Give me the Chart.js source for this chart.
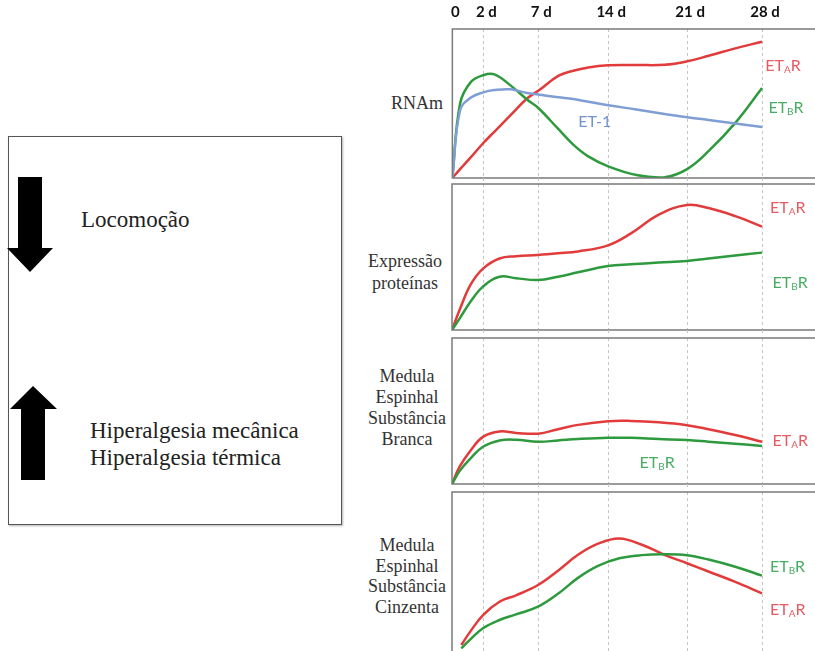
<!DOCTYPE html>
<html>
<head>
<meta charset="utf-8">
<script src="https://cdn.jsdelivr.net/npm/chart.js@4.4.1/dist/chart.umd.min.js"></script>
<style>
  body { margin: 0; background: #fff; }
  #stage { position: relative; width: 815px; height: 651px; overflow: hidden; }
  canvas { position: absolute; left: 440px; }
  .box { position: absolute; left: 8px; top: 136px; width: 334px; height: 389px; box-sizing: border-box;
         border: 1.5px solid #555; box-shadow: 1px 1px 2px rgba(0,0,0,0.3); }
  .serif { position: absolute; font-family: "Liberation Serif", serif; color: #222; }
  .title { position: absolute; font-family: "Liberation Serif", serif; font-size: 18px; color: #333;
           text-align: center; width: 110px; }
</style>
</head>
<body>
<div id="stage">
  <div class="box"></div>
  <svg width="360" height="651" style="position:absolute;left:0;top:0">
    <polygon points="18,177 42,177 42,248 53,248 30,272 7,248 18,248" fill="#000"/>
    <polygon points="33,386 57,409 45,409 45,480 21,480 21,409 10,409" fill="#000"/>
  </svg>
  <div class="serif" style="left:81px;top:207px;font-size:23px;line-height:26px">Locomoção</div>
  <div class="serif" style="left:90px;top:417px;font-size:23px;line-height:27px">Hiperalgesia mecânica<br>Hiperalgesia térmica</div>

  <div class="title" style="left:362px;top:93px;line-height:21px">RNAm</div>
  <div class="title" style="left:350px;top:251px;line-height:21.5px">Expressão<br>proteínas</div>
  <div class="title" style="left:352px;top:366px;line-height:21px">Medula<br>Espinhal<br>Substância<br>Branca</div>
  <div class="title" style="left:352px;top:535px;line-height:20.7px">Medula<br>Espinhal<br>Substância<br>Cinzenta</div>

  <canvas id="c1" width="375" height="184" style="top:0px"></canvas>
  <canvas id="c2" width="375" height="158" style="top:178px"></canvas>
  <canvas id="c3" width="375" height="158" style="top:332px"></canvas>
  <canvas id="c4" width="375" height="165" style="top:486px"></canvas>
</div>
<script>
// time axis
const tickDays = [0, 2, 7, 14, 21, 28];
const dayKnots = [0, 2, 7, 14, 21, 28, 33];
const knotSpots = [0, 31, 86, 156, 235, 310, 363].map(p => p / 363);

// RNAm
const rnaDays = [0, 0.5, 1.2, 2, 3, 4.5, 6, 7, 9, 10.5, 12, 14, 16.5, 19, 21, 23, 25.5, 28];
const rnaEtaR = [0, 6, 14, 23.5, 31, 42.3, 53.5, 58.5, 68.5, 72, 74.2, 75.6, 75.8, 76, 78.3, 82, 87, 91.5];
const rnaEtbR = [0, 50, 64.5, 69, 69.5, 62, 52.5, 47, 32.9, 22.4, 14.5, 7.8, 2, 0.5, 6, 18, 37, 60.4];
const rnaEt1 = [0, 45.5, 54, 57.5, 59, 59.5, 57, 56, 54.2, 53, 51.2, 48.8, 46, 43, 40.7, 39, 36.6, 34.2];

// Expressão proteínas
const protDays = [0, 0.5, 1.2, 2, 3.5, 5, 7, 9, 11, 14, 16, 18.5, 21, 23, 25.5, 28];
const protEtaR = [0, 14, 31, 42, 49, 50.5, 51.4, 52.5, 53.8, 58, 66, 79, 85.6, 83.5, 78, 70.8];
const protEtbR = [0, 8, 19.5, 29.7, 36.5, 35.5, 34.2, 36.5, 39.5, 43.8, 45, 46.2, 47.3, 49, 51, 53];

// Medula espinhal, substância branca
const whiteDays = [0, 0.5, 1.2, 2, 3.5, 5, 7, 9, 11, 14, 16, 18.5, 21, 23, 25.5, 28];
const whiteEtaR = [0, 12, 23, 32.3, 36, 35, 34.5, 37.5, 40.5, 43, 43.2, 42.3, 40.3, 37.5, 33.5, 28.9];
const whiteEtbR = [0, 9, 17.6, 25.5, 29.8, 30.3, 28.9, 29.8, 30.8, 31.7, 31.6, 30.8, 30.1, 29, 27.6, 26];

// Medula espinhal, substância cinzenta
const greyDays = [0.6, 1.2, 2, 3.5, 5, 7, 9, 11, 13, 15, 17, 19, 21, 23, 25.5, 28];
const greyEtaR = [3.8, 12.5, 22.6, 31, 35, 41.5, 50.5, 60.5, 67.5, 70.8, 66.8, 60.5, 55.2, 50, 43.5, 36.3];
const greyEtbR = [1.7, 7.5, 14.3, 19.5, 23, 27.9, 36, 46, 53.5, 58.3, 60.3, 60.8, 60.2, 57.5, 53, 47.4];

const RED = "#e23b3b", GREEN = "#2e9a3e", BLUE = "#7e9ed4";
const RED_TXT = "#e65a60", GREEN_TXT = "#48ad62", BLUE_TXT = "#7393cf";

// piecewise day axis, like the original drawing
function dayToFrac(v) {
  for (let i = 1; i < dayKnots.length; i++) {
    if (v <= dayKnots[i]) {
      const t = (v - dayKnots[i - 1]) / (dayKnots[i] - dayKnots[i - 1]);
      return knotSpots[i - 1] + t * (knotSpots[i] - knotSpots[i - 1]);
    }
  }
  return 1;
}
function fracToDay(f) {
  for (let i = 1; i < knotSpots.length; i++) {
    if (f <= knotSpots[i]) {
      const t = (f - knotSpots[i - 1]) / (knotSpots[i] - knotSpots[i - 1]);
      return dayKnots[i - 1] + t * (dayKnots[i] - dayKnots[i - 1]);
    }
  }
  return dayKnots[dayKnots.length - 1];
}
class DayScale extends Chart.LinearScale {
  getPixelForValue(v) {
    if (v === null || isNaN(v)) return NaN;
    return this.getPixelForDecimal(dayToFrac(v));
  }
  getValueForPixel(px) {
    return fracToDay(this.getDecimalForPixel(px));
  }
}
DayScale.id = "days";
DayScale.defaults = Object.assign({}, Chart.LinearScale.defaults);
Chart.register(DayScale);

const pairs = (xs, ys) => xs.map((x, i) => ({ x: x, y: ys[i] }));

function line(xs, ys, color) {
  return {
    data: pairs(xs, ys),
    borderColor: color,
    borderWidth: 2.5,
    pointRadius: 0,
    fill: false,
    tension: 0.4
  };
}

// frame on left/top/bottom + dashed lines carried through the gap
function framePlugin(showBottom, carryDown) {
  return {
    id: "frame",
    afterDraw(chart) {
      const { ctx, chartArea: a, scales: { x } } = chart;
      ctx.save();
      ctx.strokeStyle = "#7a7a7a";
      ctx.lineWidth = 1.5;
      ctx.beginPath();
      ctx.moveTo(chart.width, a.top);
      ctx.lineTo(a.left, a.top);
      ctx.lineTo(a.left, showBottom ? a.bottom : chart.height);
      if (showBottom) ctx.lineTo(chart.width, a.bottom);
      ctx.stroke();
      if (carryDown) {
        ctx.strokeStyle = "#c4c4c4";
        ctx.lineWidth = 1;
        ctx.setLineDash([3, 3]);
        tickDays.slice(1).forEach(d => {
          const px = Math.round(x.getPixelForValue(d)) + 0.5;
          ctx.beginPath();
          ctx.moveTo(px, a.bottom);
          ctx.lineTo(px, chart.height);
          ctx.stroke();
        });
      }
      ctx.restore();
    }
  };
}

function labelsPlugin(items) {
  return {
    id: "seriesLabels",
    afterDatasetsDraw(chart) {
      const { ctx, scales: { x, y } } = chart;
      items.forEach(it => {
        let px = x.getPixelForValue(it.day);
        const py = y.getPixelForValue(it.value);
        ctx.save();
        ctx.fillStyle = it.color;
        ctx.textBaseline = "middle";
        ctx.textAlign = "left";
        ctx.font = "16px Lato";
        ctx.fillText(it.main, px, py);
        px += ctx.measureText(it.main).width;
        if (it.sub) {
          ctx.font = "10px Lato";
          ctx.fillText(it.sub, px, py + 4);
          px += ctx.measureText(it.sub).width;
          ctx.font = "16px Lato";
          ctx.fillText(it.tail, px, py);
        }
        ctx.restore();
      });
    }
  };
}

function makePanel(id, datasets, labels, opts) {
  new Chart(document.getElementById(id), {
    type: "line",
    data: { datasets: datasets },
    options: {
      responsive: false,
      animation: false,
      layout: { padding: { left: 12, right: 0, top: opts.top, bottom: opts.bottom } },
      plugins: { legend: { display: false }, tooltip: { enabled: false } },
      scales: {
        x: {
          type: "days",
          position: "top",
          min: 0,
          max: 33,
          afterBuildTicks: axis => { axis.ticks = tickDays.map(v => ({ value: v })); },
          afterFit: axis => { axis.height = opts.axis ? 29 : 0; },
          grid: {
            color: ctx => (ctx.tick && ctx.tick.value === 0 ? "rgba(0,0,0,0)" : "#c4c4c4"),
            lineWidth: 1,
            drawTicks: false
          },
          border: { display: false, dash: [3, 3] },
          ticks: {
            display: !!opts.axis,
            padding: 8,
            labelOffset: 3,
            maxRotation: 0,
            autoSkip: false,
            color: "#111",
            font: { family: "Lato", size: 15, weight: "bold" },
            callback: v => (v === 0 ? "0" : v + " d")
          }
        },
        y: { display: false, min: 0, max: 100 }
      }
    },
    plugins: [framePlugin(opts.showBottom, opts.carry), labelsPlugin(labels)]
  });
}

makePanel("c1", [
  line(rnaDays, rnaEt1, BLUE),
  line(rnaDays, rnaEtbR, GREEN),
  line(rnaDays, rnaEtaR, RED)
], [
  { main: "ET", sub: "A", tail: "R", day: 28.3, value: 75, color: RED_TXT },
  { main: "ET", sub: "B", tail: "R", day: 28.6, value: 47, color: GREEN_TXT },
  { main: "ET-1", day: 11, value: 37.6, color: BLUE_TXT }
], { top: 0, bottom: 6, axis: true, showBottom: true, carry: true });

makePanel("c2", [
  line(protDays, protEtbR, GREEN),
  line(protDays, protEtaR, RED)
], [
  { main: "ET", sub: "A", tail: "R", day: 28.75, value: 83.6, color: RED_TXT },
  { main: "ET", sub: "B", tail: "R", day: 29, value: 32.2, color: GREEN_TXT }
], { top: 6, bottom: 6, axis: false, showBottom: true, carry: true });

makePanel("c3", [
  line(whiteDays, whiteEtbR, GREEN),
  line(whiteDays, whiteEtaR, RED)
], [
  { main: "ET", sub: "A", tail: "R", day: 29, value: 29.4, color: RED_TXT },
  { main: "ET", sub: "B", tail: "R", day: 16.8, value: 14.4, color: GREEN_TXT }
], { top: 6, bottom: 6, axis: false, showBottom: true, carry: true });

makePanel("c4", [
  line(greyDays, greyEtbR, GREEN),
  line(greyDays, greyEtaR, RED)
], [
  { main: "ET", sub: "B", tail: "R", day: 28.75, value: 52.8, color: GREEN_TXT },
  { main: "ET", sub: "A", tail: "R", day: 28.75, value: 25.8, color: RED_TXT }
], { top: 6, bottom: 0, axis: false, showBottom: false, carry: false });
</script>
</body>
</html>
